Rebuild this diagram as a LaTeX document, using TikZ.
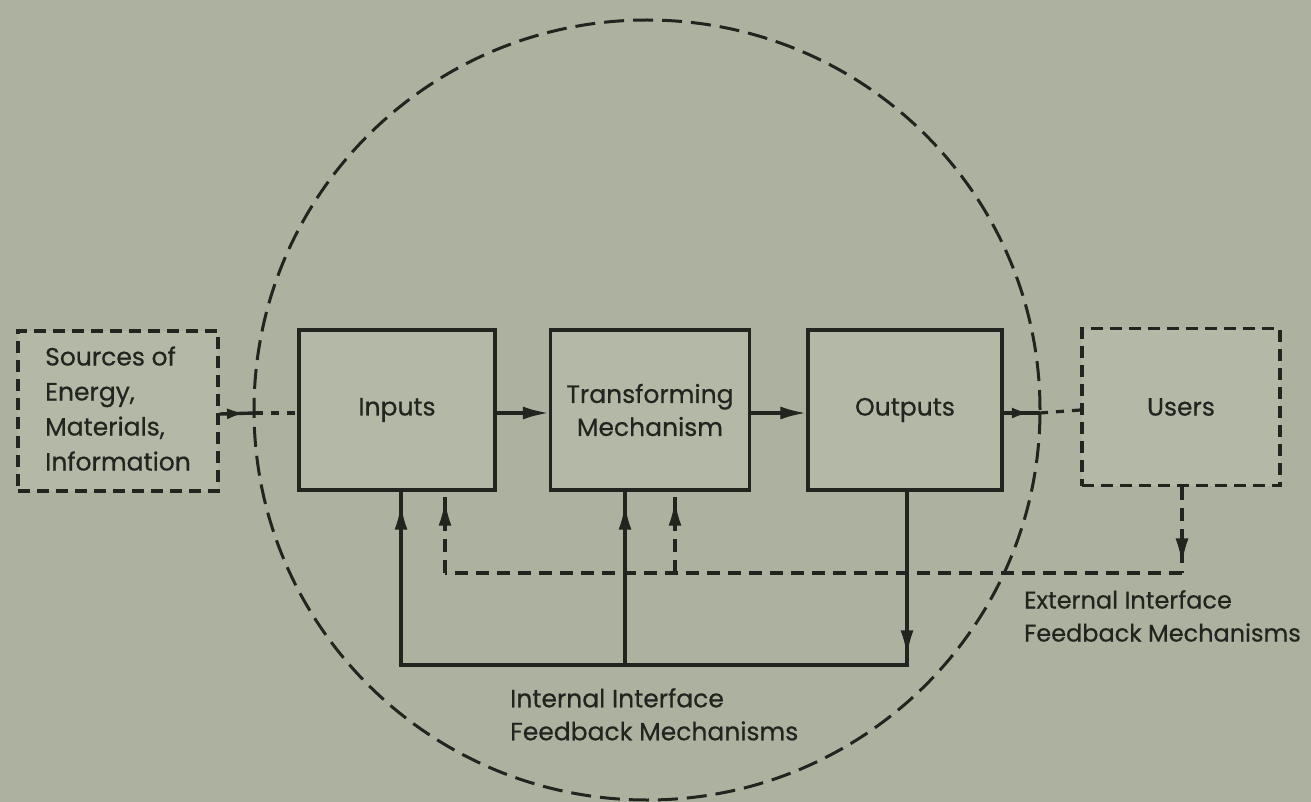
\documentclass[tikz,border=0pt]{standalone}
\usepackage{fontspec}
\setmainfont{Poppins}[FakeBold=0.5]
\usetikzlibrary{arrows.meta,decorations.markings}
\definecolor{paper}{RGB}{173,178,160}
\definecolor{boxfill}{RGB}{179,184,167}
\definecolor{ink}{RGB}{34,36,31}
\begin{document}
\begin{tikzpicture}[x=1pt,y=-1pt,
  every node/.style={font=\fontsize{25}{33}\selectfont, text=ink},
  blk/.style={draw=ink, fill=boxfill, line width=3.2pt, minimum height=160pt, inner sep=0pt, align=center},
  extblk/.style={blk, dash pattern=on 12pt off 7pt},
  solidln/.style={draw=ink, line width=3.4pt},
  dashin/.style={draw=ink, line width=3.2pt, dash pattern=on 8pt off 8pt},
  dashfb/.style={draw=ink, line width=3.4pt, dash pattern=on 13pt off 8pt},
  circ/.style={draw=ink, line width=3pt, dash pattern=on 20pt off 9pt},
  tip/.style={-{Latex[length=26pt,width=13pt]}},
  tipat/.style={postaction={decorate}, decoration={markings,
      mark=at position #1 with {\arrow{Latex[length=26pt,width=13pt]}}}},
  smalltipat/.style={postaction={decorate}, decoration={markings,
      mark=at position #1 with {\arrow{Latex[length=18pt,width=11pt]}}}},
  lbl/.style={align=left, inner sep=0pt}]

% page
\fill[paper] (0,0) rectangle (1311,802);
\useasboundingbox (0,0) rectangle (1311,802);

% system boundary
\draw[circ] (647,410) ellipse [x radius=393pt, y radius=390pt];

% blocks
\node[extblk, minimum width=200pt, font=\fontsize{25}{35}\selectfont] (src) at (118,411)
  {\begin{tabular}{@{}l@{}}Sources of\\Energy,\\Materials,\\Information\end{tabular}};
\node[blk, minimum width=196pt] (inp) at (397,410) {Inputs};
\node[blk, minimum width=199pt] (tra) at (650,410) {Transforming\\Mechanism};
\node[blk, minimum width=194pt] (out) at (905,410) {Outputs};
\node[extblk, minimum width=198pt, minimum height=157pt] (usr) at (1181,407) {Users};

% boundary crossings of the main flow
\coordinate (cl) at (255,413);
\coordinate (cr) at (1040,413);

% main flow
\draw[solidln, smalltipat=0.72] ([yshift=-3pt]src.east) -- (cl);
\draw[dashin] (cl) -- ([yshift=-3pt]inp.west);
\draw[solidln, tip] ([yshift=-3pt]inp.east) -- ([yshift=-3pt]tra.west);
\draw[solidln, tip] ([yshift=-3pt]tra.east) -- ([yshift=-3pt]out.west);
\draw[solidln, smalltipat=0.72] ([yshift=-3pt]out.east) -- (cr);
\draw[dashin] (cr) -- ([yshift=-3pt]usr.west);

% internal feedback loop
\coordinate (bl) at (401,665);
\coordinate (bm) at (625,665);
\coordinate (br) at (907,665);
\draw[solidln, tipat=0.95] (out.south -| br) -- (br);
\draw[solidln, line cap=rect] (br) -- (bl);
\draw[solidln, tipat=0.93] (bl) -- (bl |- inp.south);
\draw[solidln, tipat=0.93] (bm) -- (bm |- tra.south);

% external feedback loop
\coordinate (ul) at (445,573);
\coordinate (um) at (675,573);
\coordinate (ur) at (1182,573);
\draw[dashfb, tipat=0.9] (usr.south -| ur) -- (ur);
\draw[dashfb] (ur) -- (ul);
\draw[dashfb, tipat=0.9] (ul) -- (ul |- inp.south);
\draw[dashfb, tipat=0.9] (um) -- (um |- tra.south);

% captions
\node[lbl, anchor=north west, font=\fontsize{24}{33}\selectfont] (extlbl) at (1024,590) {External Interface\\Feedback Mechanisms};
\node[lbl, anchor=north west] (intlbl) at (510,688) {Internal Interface\\Feedback Mechanisms};
\end{tikzpicture}
\end{document}
